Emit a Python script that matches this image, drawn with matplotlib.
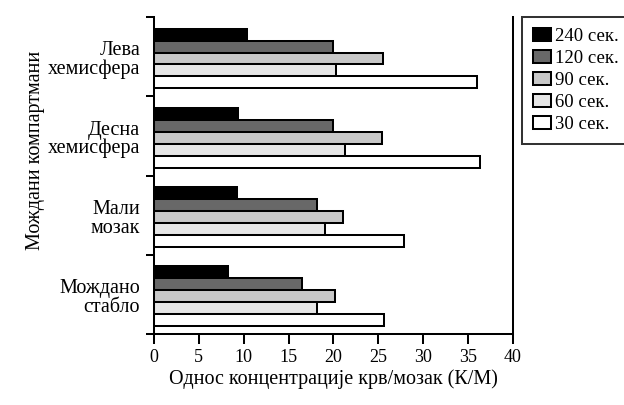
import matplotlib
matplotlib.use('Agg')
import matplotlib.pyplot as plt
import numpy as np

plt.rcParams['font.family'] = ['Liberation Serif', 'DejaVu Serif']

# brain compartments, top to bottom
compartments = ['Лева\nхемисфера', 'Десна\nхемисфера', 'Мали\nмозак', 'Мождано\nстабло']

# blood/brain concentration ratio per sampling time
times = ['240 сек.', '120 сек.', '90 сек.', '60 сек.', '30 сек.']
ratio_240 = [10.4, 9.4, 9.2, 8.2]
ratio_120 = [20.0, 20.0, 18.2, 16.5]
ratio_90 = [25.5, 25.4, 21.1, 20.2]
ratio_60 = [20.3, 21.3, 19.1, 18.2]
ratio_30 = [36.0, 36.3, 27.9, 25.6]
series = [ratio_240, ratio_120, ratio_90, ratio_60, ratio_30]
colors = ['#000000', '#686868', '#c8c8c8', '#e6e6e6', '#ffffff']

fig = plt.figure(figsize=(6.24, 4.05), dpi=100)
ax = fig.add_axes([154/624, 1 - 334/405, 358.7/624, 317/405])

LW = 1.45
bar_h = 0.151
offset = 0.146
groups = np.arange(len(compartments))
for k, (vals, col) in enumerate(zip(series, colors)):
    ax.barh(groups + offset + k*bar_h, vals, height=bar_h, align='edge',
            color=col, edgecolor='black', linewidth=LW, label=times[k])

ax.set_xlim(0, 40)
ax.set_ylim(len(compartments), 0)
ax.set_xticks(np.arange(0, 41, 5))
ax.set_yticks(np.arange(0, len(compartments) + 1))
ax.set_yticklabels([])
ax.set_yticks(groups + 0.52, minor=True)
ax.set_yticklabels(compartments, minor=True, fontsize=14.5, linespacing=0.95)

ax.tick_params(axis='x', direction='out', length=7, width=LW, labelsize=13, pad=4)
ax.tick_params(axis='y', which='major', direction='out', length=6, width=LW)
ax.tick_params(axis='y', which='minor', length=0, pad=10)

ax.spines['top'].set_visible(False)
for s in ['left', 'right', 'bottom']:
    ax.spines[s].set_linewidth(LW)

ax.set_xlabel('Однос концентрације крв/мозак (К/М)', fontsize=14.5, labelpad=2)
ax.set_ylabel('Мождани компартмани', fontsize=14.5)
ax.yaxis.set_label_coords(-0.305, 0.58)

leg = fig.legend(loc='upper left', bbox_to_anchor=(522/624, 1 - 17/405),
                 fontsize=13.5, frameon=True, fancybox=False, edgecolor='black',
                 borderpad=0.6, labelspacing=0.25, handlelength=0.95,
                 handleheight=0.7, handletextpad=0.2, borderaxespad=0)
leg.get_frame().set_linewidth(LW)

fig.savefig('out.png', dpi=100)
